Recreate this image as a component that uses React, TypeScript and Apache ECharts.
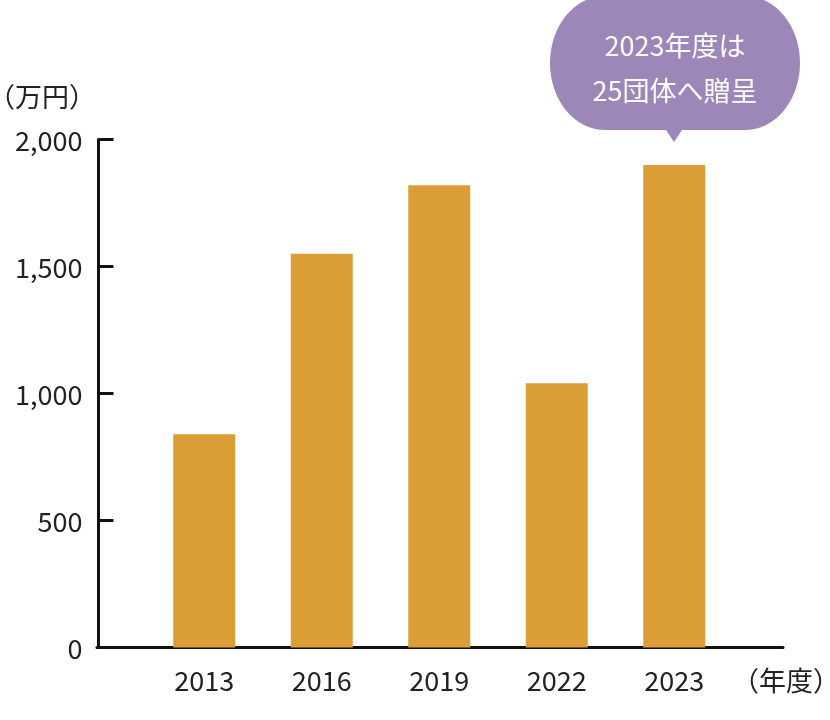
import React, { useEffect, useRef } from "react";
import * as echarts from "echarts";

const years = ["2013", "2016", "2019", "2022", "2023"];
const amounts = [840, 1550, 1820, 1040, 1900];
const yMin = 0;
const yMax = 2000;
const yInterval = 500;
const yUnitLabel = "（万円）";
const xUnitLabel = "（年度）";
const noteLines = ["2023年度は", "25団体へ贈呈"];

const FONT = "'Noto Sans CJK JP', 'Noto Sans', sans-serif";
const TEXT = "#222222";
const BAR = "#DB9E36";
const BUBBLE = "#9D87B8";

const bubblePath =
  "M55,0 L195,0 A55,67 0 0 1 250,67 A55,67 0 0 1 195,134 L132,134 L124,146 L116,134 L55,134 A55,67 0 0 1 0,67 A55,67 0 0 1 55,0 Z";

let registered = false;
function ensureShape() {
  if (registered) return;
  echarts.graphic.registerShape("bubble", echarts.graphic.extendPath(bubblePath, {}) as any);
  registered = true;
}

export default function App() {
  const ref = useRef<HTMLDivElement>(null);
  useEffect(() => {
    if (!ref.current) return;
    ensureShape();
    const chart = echarts.init(ref.current, undefined, { renderer: "svg" });
    chart.setOption({
      animation: false,
      textStyle: { fontFamily: FONT },
      grid: [
        { left: 145.5, right: 97, top: 139.5, bottom: 72.5, containLabel: false },
        { left: 97, right: 47, top: 139.5, bottom: 72.5, containLabel: false },
      ],
      xAxis: [
        {
          type: "category",
          gridIndex: 0,
          data: years,
          axisLine: { show: false },
          axisTick: { show: false },
          axisLabel: { color: TEXT, fontSize: 27, fontFamily: FONT, margin: 18 },
        },
        {
          type: "value",
          gridIndex: 1,
          min: 0,
          max: 1,
          axisLine: { show: true, lineStyle: { color: "#111111", width: 3 } },
          axisTick: { show: false },
          axisLabel: { show: false },
          splitLine: { show: false },
        },
      ],
      yAxis: [
        {
          type: "value",
          gridIndex: 0,
          min: yMin,
          max: yMax,
          interval: yInterval,
          offset: 47,
          axisLine: { show: true, lineStyle: { color: "#111111", width: 3 } },
          axisTick: { show: true, inside: true, length: 15, lineStyle: { color: "#111111", width: 3 } },
          axisLabel: {
            color: TEXT,
            fontSize: 27,
            fontFamily: FONT,
            margin: 16,
            formatter: (v: number) => v.toLocaleString("en-US"),
          },
          splitLine: { show: false },
        },
        {
          type: "value",
          gridIndex: 1,
          min: yMin,
          max: yMax,
          show: false,
        },
      ],
      series: [
        {
          type: "bar",
          xAxisIndex: 0,
          yAxisIndex: 0,
          data: amounts,
          barWidth: 62,
          itemStyle: { color: BAR },
          silent: true,
        },
      ],
      graphic: [
        {
          type: "text",
          left: -12,
          top: 82,
          style: { text: yUnitLabel, fill: TEXT, font: `27px ${FONT}` },
        },
        {
          type: "text",
          left: 732,
          top: 666,
          style: { text: xUnitLabel, fill: TEXT, font: `27px ${FONT}` },
        },
        {
          type: "bubble",
          x: 550,
          y: -4,
          style: { fill: BUBBLE },
          silent: true,
        },
        {
          type: "text",
          x: 675,
          y: 44,
          style: {
            text: noteLines[0],
            fill: "#ffffff",
            font: `27px ${FONT}`,
            textAlign: "center",
            textVerticalAlign: "middle",
          },
        },
        {
          type: "text",
          x: 675,
          y: 89,
          style: {
            text: noteLines[1],
            fill: "#ffffff",
            font: `27px ${FONT}`,
            textAlign: "center",
            textVerticalAlign: "middle",
          },
        },
      ],
    });
    return () => chart.dispose();
  }, []);
  return (
    <div
      ref={ref}
      style={{ position: "fixed", left: 0, top: 0, width: 830, height: 720 }}
    />
  );
}
